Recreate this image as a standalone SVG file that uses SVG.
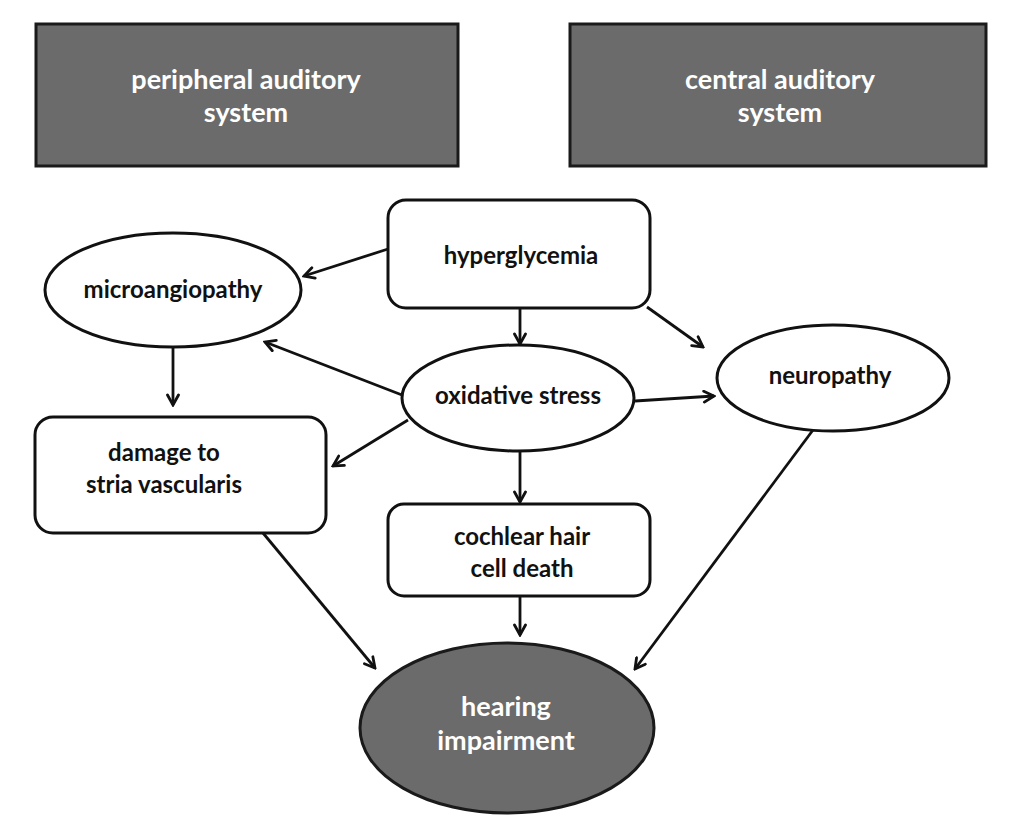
<svg xmlns="http://www.w3.org/2000/svg" width="1012" height="824" viewBox="0 0 1012 824">
<style>
  .dark { fill: #6b6b6b; stroke: #1a1a1a; stroke-width: 3; }
  .light { fill: #ffffff; stroke: #111111; stroke-width: 3; }
  .t { font-family: Lato, "Liberation Sans", sans-serif; font-weight: bold; font-size: 24px; fill: #111111; text-anchor: middle; }
  .tw { font-family: Lato, "Liberation Sans", sans-serif; font-weight: bold; font-size: 27px; fill: #ffffff; text-anchor: middle; }
  .edge { stroke: #111111; stroke-width: 2.8; fill: none; marker-end: url(#arr); }
</style>
<defs>
  <marker id="arr" viewBox="0 0 14 14" refX="12" refY="7" markerWidth="14" markerHeight="14" markerUnits="userSpaceOnUse" orient="auto">
    <path d="M2,1.5 L12,7 L2,12.5" fill="none" stroke="#111111" stroke-width="2.8" stroke-linecap="round" stroke-linejoin="miter"/>
  </marker>
</defs>
<rect width="1012" height="824" fill="#ffffff"/>

<g id="peripheral">
  <rect class="dark" x="36" y="24" width="422" height="142"/>
  <text class="tw" x="246" y="89">peripheral auditory</text>
  <text class="tw" x="246" y="122">system</text>
</g>
<g id="central">
  <rect class="dark" x="570" y="24" width="416" height="142"/>
  <text class="tw" x="780" y="89">central auditory</text>
  <text class="tw" x="780" y="122">system</text>
</g>

<g id="hyperglycemia">
  <rect class="light" x="388" y="200" width="262" height="108" rx="18"/>
  <text class="t" x="521" y="264">hyperglycemia</text>
</g>
<g id="microangiopathy">
  <ellipse class="light" cx="173" cy="290" rx="128" ry="57"/>
  <text class="t" x="173" y="298">microangiopathy</text>
</g>
<g id="oxidative">
  <ellipse class="light" cx="518" cy="398" rx="116" ry="53"/>
  <text class="t" x="518" y="404">oxidative stress</text>
</g>
<g id="neuropathy">
  <ellipse class="light" cx="833" cy="378" rx="116" ry="53"/>
  <text class="t" x="830" y="384">neuropathy</text>
</g>
<g id="damage">
  <rect class="light" x="35" y="417" width="291" height="116" rx="18"/>
  <text class="t" x="164" y="461">damage to</text>
  <text class="t" x="164" y="493">stria vascularis</text>
</g>
<g id="cochlear">
  <rect class="light" x="388" y="504" width="262" height="92" rx="16"/>
  <text class="t" x="522" y="545">cochlear hair</text>
  <text class="t" x="522" y="577">cell death</text>
</g>
<g id="hearing">
  <ellipse class="dark" cx="507" cy="728" rx="147" ry="85"/>
  <text class="tw" x="506" y="716">hearing</text>
  <text class="tw" x="506" y="750">impairment</text>
</g>

<g id="connectors">
  <path class="edge" d="M388,249 L304,276"/>
  <path class="edge" d="M520,309 L520,344"/>
  <path class="edge" d="M647,307 L703,347"/>
  <path class="edge" d="M402,395 L265,342"/>
  <path class="edge" d="M173,347 L173,405"/>
  <path class="edge" d="M408,420 L333,466"/>
  <path class="edge" d="M635,401 L714,396"/>
  <path class="edge" d="M520,452 L520,502"/>
  <path class="edge" d="M263,533 L375,668"/>
  <path class="edge" d="M520,596 L520,635"/>
  <path class="edge" d="M813,430 L635,669"/>
</g>
</svg>
